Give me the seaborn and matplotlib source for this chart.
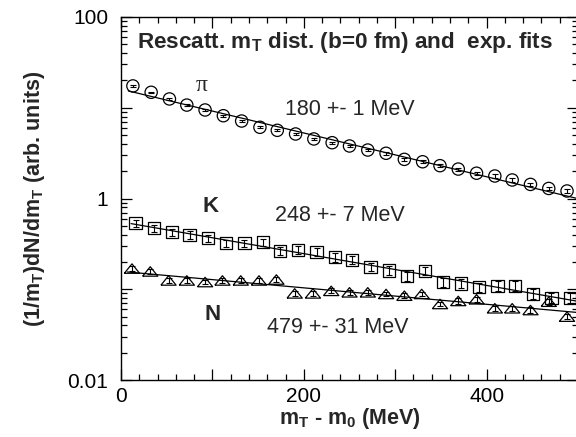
import numpy as np
import pandas as pd
import matplotlib
matplotlib.use("Agg")
import matplotlib.pyplot as plt
import matplotlib.ticker as mticker
import seaborn as sns

# values
pion_x = [13, 33, 53, 72, 92, 112, 132, 152, 171, 191, 211, 231, 250,
          270, 290, 310, 330, 349, 369, 389, 409, 428, 448, 468, 488]
pion_y = [17.4, 14.8, 12.5, 10.7, 9.45, 8.17, 7.14, 6.09, 5.64, 5.14, 4.53,
          4.12, 3.79, 3.42, 3.15, 2.70, 2.54, 2.30, 2.11, 1.90, 1.77, 1.60,
          1.43, 1.29, 1.21]
pion_err = [0.35, 0.30, 0.27, 0.24, 0.22, 0.20, 0.18, 0.16, 0.15, 0.14, 0.13,
            0.12, 0.11, 0.10, 0.10, 0.09, 0.09, 0.08, 0.08, 0.08, 0.07, 0.07,
            0.06, 0.06, 0.06]

kaon_x = [16, 36, 56, 75, 95, 115, 135, 155, 174, 194, 214, 234, 253,
          273, 293, 313, 333, 352, 372, 392, 412, 431, 451, 471, 491]
kaon_y = [0.533, 0.470, 0.425, 0.396, 0.364, 0.321, 0.321, 0.329, 0.266,
          0.271, 0.259, 0.225, 0.210, 0.177, 0.161, 0.140, 0.160, 0.120,
          0.116, 0.105, 0.109, 0.109, 0.0887, 0.0807, 0.0807]
kaon_err = [0.050, 0.045, 0.040, 0.037, 0.035, 0.032, 0.032, 0.033, 0.027,
            0.028, 0.027, 0.024, 0.022, 0.019, 0.018, 0.016, 0.018, 0.014,
            0.013, 0.012, 0.013, 0.013, 0.011, 0.010, 0.010]

nuc_x = [12, 32, 52, 72, 92, 111, 131, 151, 170, 190, 210, 230, 250,
         270, 290, 310, 329, 349, 369, 389, 409, 428, 448, 468, 488]
nuc_y = [0.169, 0.157, 0.125, 0.125, 0.120, 0.125, 0.125, 0.125, 0.128,
         0.090, 0.090, 0.096, 0.0925, 0.0925, 0.0887, 0.0849, 0.0887,
         0.0688, 0.0743, 0.0775, 0.0617, 0.0617, 0.0590, 0.0729, 0.0499]
nuc_err = [0.010, 0.009, 0.008, 0.008, 0.007, 0.008, 0.008, 0.008, 0.008,
           0.006, 0.006, 0.006, 0.006, 0.006, 0.005, 0.005, 0.005, 0.004,
           0.005, 0.005, 0.004, 0.004, 0.004, 0.005, 0.003]

# inverse slopes quoted in the plot (MeV)
slopes = [180, 248, 479]
slope_labels = ["180 +- 1 MeV", "248 +- 7 MeV", "479 +- 31 MeV"]

sns.set_style("ticks")
plt.rcParams['font.family'] = ['Liberation Sans', 'DejaVu Sans']
plt.rcParams['mathtext.fontset'] = 'custom'
plt.rcParams['mathtext.rm'] = 'Liberation Sans'
plt.rcParams['mathtext.bf'] = 'Liberation Sans:bold'

fig = plt.figure(figsize=(5.76, 4.37), dpi=100)
ax = fig.add_axes([121 / 576, 57 / 437, 457 / 576, 363 / 437])

tri = [(-1, -0.62), (1, -0.62), (0, 0.62), (-1, -0.62)]
series = [
    (pion_x, pion_y, pion_err, "o", 78),
    (kaon_x, kaon_y, kaon_err, "s", 78),
    (nuc_x, nuc_y, nuc_err, tri, 120),
]

for (xs, ys, es, mk, size), T in zip(series, slopes):
    df = pd.DataFrame({"x": xs, "y": ys, "err": es})
    # exponential fit with the quoted slope, amplitude from the points
    amp = np.exp(np.mean(np.log(df["y"]) + df["x"] / T))
    fit_x = np.linspace(df["x"].min() - 5, 500, 50)
    fit = pd.DataFrame({"x": fit_x, "y": amp * np.exp(-fit_x / T)})
    sns.lineplot(data=fit, x="x", y="y", color="black", linewidth=0.9,
                 estimator=None, ax=ax)
    ax.errorbar(df["x"], df["y"], yerr=df["err"], fmt="none", ecolor="black",
                elinewidth=0.8, capsize=2.2, capthick=0.8)
    sns.scatterplot(data=df, x="x", y="y", marker=mk, s=size, fc="none",
                    ec="black", linewidth=0.9, ax=ax)

ax.set_yscale("log")
ax.set_xlim(0, 500)
ax.set_ylim(0.01, 100)

ax.xaxis.set_major_locator(mticker.MultipleLocator(100))
ax.xaxis.set_minor_locator(mticker.MultipleLocator(20))
ax.xaxis.set_major_formatter(mticker.FuncFormatter(
    lambda v, p: "%d" % v if v % 200 == 0 else ""))
ax.yaxis.set_major_locator(mticker.LogLocator(base=10, numticks=10))
ax.yaxis.set_minor_locator(mticker.LogLocator(base=10, subs=np.arange(2, 10), numticks=10))
ax.yaxis.set_minor_formatter(mticker.NullFormatter())
ylab = {0.01: "0.01", 1: "1", 100: "100"}
ax.yaxis.set_major_formatter(mticker.FuncFormatter(
    lambda v, p: next((s for k, s in ylab.items() if abs(v - k) < k * 1e-6), "")))

ax.tick_params(which="both", direction="in", top=True, right=True,
               width=0.9, labelsize=15, colors="black")
ax.tick_params(which="major", length=8)
ax.tick_params(which="minor", length=4.5)
ax.tick_params(axis="x", pad=5)
ax.tick_params(axis="y", pad=9)
for s in ax.spines.values():
    s.set_linewidth(1.0)
    s.set_color("black")

ax.set_xlabel(r"m$_\mathbf{T}$ - m$_\mathbf{0}$ (MeV)", fontsize=15.5,
              fontweight="bold", labelpad=0)
ax.set_ylabel(r"(1/m$_\mathbf{T}$)dN/dm$_\mathbf{T}$ (arb. units)",
              fontsize=15.5, fontweight="bold")
ax.yaxis.set_label_coords(-0.162, 0.5)

ax.text(0.035, 0.915, r"Rescatt. m$_\mathbf{T}$ dist. (b=0 fm) and  exp. fits",
        transform=ax.transAxes, fontsize=16.2, fontweight="bold", va="baseline")
ax.text(0.177, 0.796, "\u03c0", transform=ax.transAxes, fontsize=17,
        family=["Liberation Serif", "DejaVu Serif"], ha="center", va="baseline")
ax.text(0.195, 0.463, "K", transform=ax.transAxes, fontsize=16,
        fontweight="bold", ha="center", va="baseline")
ax.text(0.201, 0.165, "N", transform=ax.transAxes, fontsize=16,
        fontweight="bold", ha="center", va="baseline")
for (tx, ty), lab in zip([(0.359, 0.730), (0.337, 0.438), (0.319, 0.129)], slope_labels):
    ax.text(tx, ty, lab, transform=ax.transAxes, fontsize=15.5, va="baseline")

fig.savefig("out.png", dpi=100)
